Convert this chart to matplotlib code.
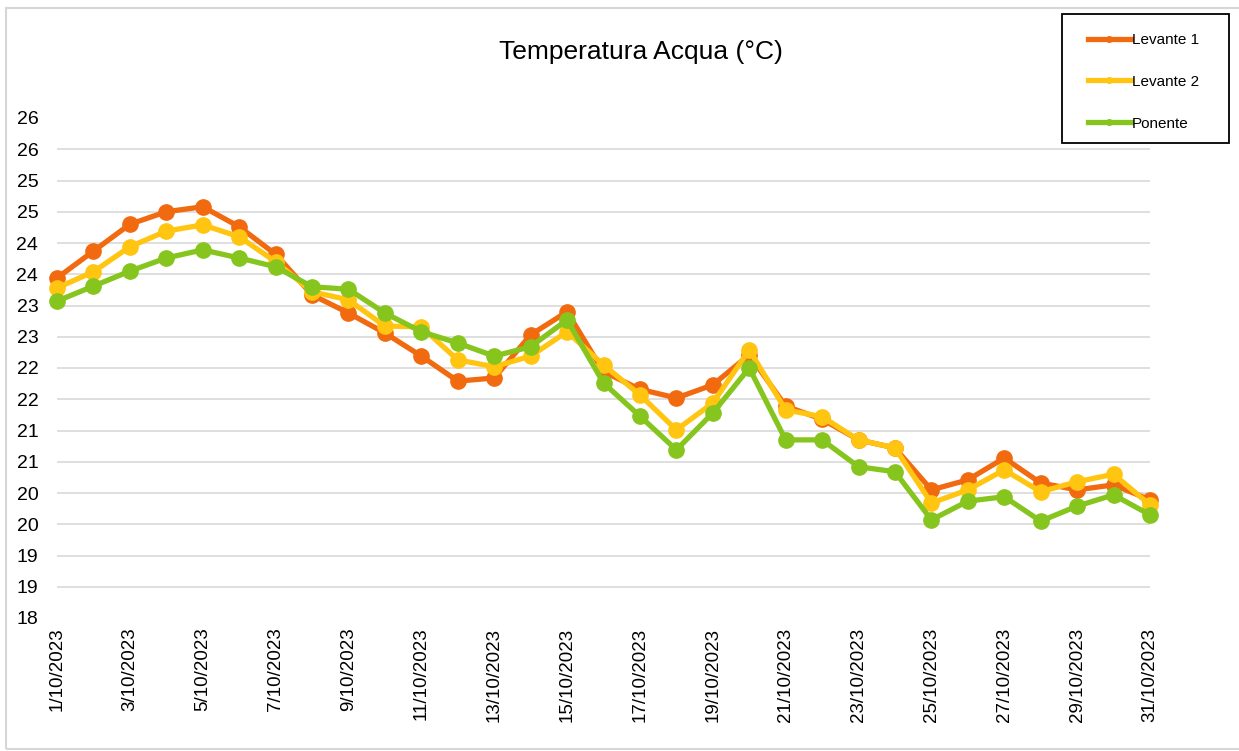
import numpy as np
import matplotlib
matplotlib.use("Agg")
import matplotlib.pyplot as plt
from matplotlib.lines import Line2D
from matplotlib.patches import Rectangle
from matplotlib.ticker import FuncFormatter, MultipleLocator

plt.rcParams["font.family"] = ["Liberation Sans", "DejaVu Sans"]

days = [f"{d}/10/2023" for d in range(1, 32)]

levante_1 = [23.44, 23.87, 24.30, 24.50, 24.58, 24.26, 23.82, 23.17, 22.88, 22.56,
             22.19, 21.79, 21.84, 22.53, 22.90, 21.94, 21.66, 21.52, 21.73, 22.21,
             21.39, 21.18, 20.85, 20.72, 20.05, 20.21, 20.56, 20.16, 20.05, 20.13,
             19.89]
levante_2 = [23.28, 23.54, 23.94, 24.19, 24.29, 24.10, 23.70, 23.22, 23.09, 22.67,
             22.66, 22.13, 22.02, 22.19, 22.58, 22.05, 21.57, 21.01, 21.44, 22.29,
             21.33, 21.22, 20.85, 20.72, 19.84, 20.05, 20.37, 20.02, 20.18, 20.30,
             19.81]
ponente = [23.07, 23.31, 23.55, 23.76, 23.89, 23.76, 23.62, 23.30, 23.26, 22.88,
           22.58, 22.40, 22.19, 22.34, 22.77, 21.76, 21.23, 20.69, 21.28, 22.00,
           20.85, 20.85, 20.42, 20.34, 19.57, 19.87, 19.94, 19.55, 19.79, 19.97,
           19.65]

series = [
    ("Levante 1", levante_1, "#F26A10"),
    ("Levante 2", levante_2, "#FFC510"),
    ("Ponente", ponente, "#86C51E"),
]

W, H = 1239, 751
fig = plt.figure(figsize=(W / 100, H / 100), dpi=100)
ax = fig.add_axes([57 / W, 1 - 618 / H, (1150 - 57) / W, 500 / H])

# light frame round the chart area
fig.patches.append(Rectangle((6 / W, 1 - 749 / H), (W + 10) / W, (749 - 8) / H,
                             transform=fig.transFigure, fill=False,
                             edgecolor="#D6D6D6", linewidth=1.5))

x = np.arange(len(days))
for name, vals, color in series:
    ax.plot(x, vals, color=color, linewidth=3.8, marker="o", markersize=11,
            label=name, zorder=3, clip_on=False)

ax.set_xlim(0, len(days) - 1)
ax.set_ylim(18, 26)
ax.yaxis.set_major_locator(MultipleLocator(0.5))
ax.yaxis.set_major_formatter(FuncFormatter(lambda v, _: str(int(np.floor(v + 0.5)))))
ax.set_xticks(x[::2])
ax.set_xticklabels(days[::2], rotation=90, fontsize=13.5)
ax.tick_params(axis="both", length=0)
ax.tick_params(axis="y", labelsize=14, pad=13.5)
ax.tick_params(axis="x", pad=7)

ax.grid(axis="y", color="#D9D9D9", linewidth=1.2, zorder=0)
ax.set_axisbelow(True)
for line, val in zip(ax.get_ygridlines(), ax.get_yticks()):
    if val <= 18.01 or val >= 25.99:
        line.set_visible(False)
for s in ax.spines.values():
    s.set_visible(False)

fig.text(641 / W, 1 - 52 / H, "Temperatura Acqua (°C)", ha="center", va="center",
         fontsize=19)

# legend box
fig.patches.append(Rectangle((1062 / W, 1 - 143 / H), 167 / W, 129 / H,
                             transform=fig.transFigure, fill=False,
                             edgecolor="black", linewidth=1.3))
handles = [Line2D([], [], color=c, linewidth=3.8, marker="o", markersize=4)
           for _, _, c in series]
fig.legend(handles, [s[0] for s in series], loc="upper left",
           bbox_to_anchor=(1088 / W, 1 - 33 / H), fontsize=11,
           frameon=False, labelspacing=1.82, handlelength=2.8,
           handletextpad=0.05, borderpad=0, borderaxespad=0)

fig.savefig("out.png", dpi=100)
